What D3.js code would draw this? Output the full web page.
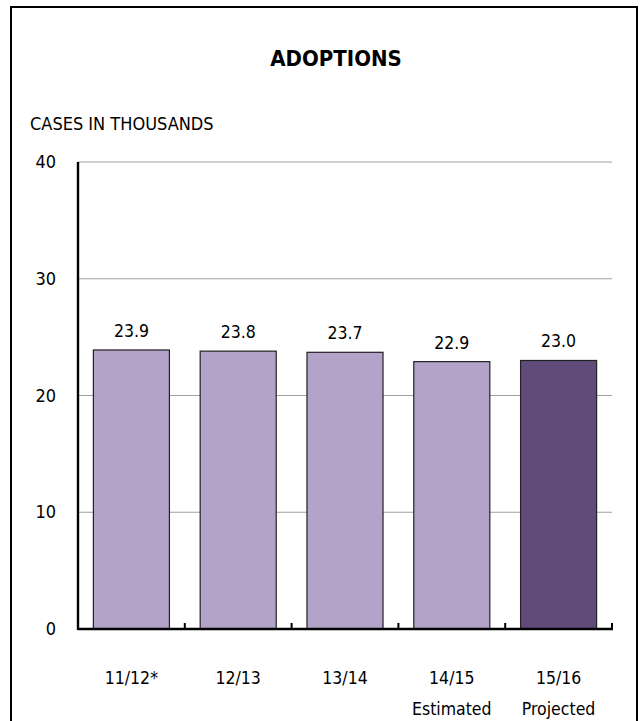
<!DOCTYPE html>
<html>
<head>
<meta charset="utf-8">
<script src="https://cdn.jsdelivr.net/npm/d3@7"></script>
<style>
  body { margin: 0; background: #fff; }
  text { font-family: "Liberation Sans Narrow", "DejaVu Sans Condensed", "Arial Narrow", sans-serif; fill: #000; }
</style>
</head>
<body>
<div id="chart"></div>
<script>
// chart data
var years = ["11/12*", "12/13", "13/14", "14/15", "15/16"];
var subLabels = ["", "", "", "Estimated", "Projected"];
var cases = [23.9, 23.8, 23.7, 22.9, 23.0];
var yTicks = [0, 10, 20, 30, 40];
var barColors = ["#b3a3c9", "#b3a3c9", "#b3a3c9", "#b3a3c9", "#614b7b"];

var w = 640, h = 721;
var svg = d3.select("#chart").append("svg")
    .attr("width", w)
    .attr("height", h);

// outer frame (bottom edge runs off the page)
svg.append("rect")
    .attr("x", 11).attr("y", 7)
    .attr("width", 626).attr("height", 740)
    .attr("fill", "none")
    .attr("stroke", "#000")
    .attr("stroke-width", 2);

var margin = {top: 162, left: 78, right: 28, bottom: 92};
var width = w - margin.left - margin.right,
    height = h - margin.top - margin.bottom;

var g = svg.append("g")
    .attr("transform", "translate(" + margin.left + "," + margin.top + ")");

var x = d3.scaleBand().domain(years).range([0, width])
    .paddingInner(0.288).paddingOuter(0.144);
var y = d3.scaleLinear().domain([0, 40]).range([height, 0]);

// titles
svg.append("text")
    .attr("x", 336).attr("y", 66)
    .attr("text-anchor", "middle")
    .style("font-weight", "bold")
    .style("font-size", "22px")
    .text("ADOPTIONS");

svg.append("text")
    .attr("x", 30).attr("y", 130)
    .style("font-size", "18px")
    .text("CASES IN THOUSANDS");

// gridlines
g.selectAll(".grid").data(yTicks.filter(function(d){ return d > 0; }))
  .enter().append("line")
    .attr("x1", 0).attr("x2", width)
    .attr("y1", function(d){ return y(d); })
    .attr("y2", function(d){ return y(d); })
    .attr("stroke", "#a0a0a0")
    .attr("stroke-width", 1.2);

// y tick labels
g.selectAll(".ylab").data(yTicks)
  .enter().append("text")
    .attr("x", -22)
    .attr("y", function(d){ return y(d) + 6; })
    .attr("text-anchor", "end")
    .style("font-size", "18px")
    .text(function(d){ return d; });

// bars
g.selectAll(".bar").data(cases)
  .enter().append("rect")
    .attr("x", function(d, i){ return x(years[i]); })
    .attr("y", function(d){ return y(d); })
    .attr("width", x.bandwidth())
    .attr("height", function(d){ return height - y(d); })
    .attr("fill", function(d, i){ return barColors[i]; })
    .attr("stroke", "#222")
    .attr("stroke-width", 1.2);

// value labels
g.selectAll(".val").data(cases)
  .enter().append("text")
    .attr("x", function(d, i){ return x(years[i]) + x.bandwidth() / 2; })
    .attr("y", function(d){ return y(d) - 13; })
    .attr("text-anchor", "middle")
    .style("font-size", "17.5px")
    .text(function(d){ return d.toFixed(1); });

// axes
g.append("line")
    .attr("x1", 0).attr("x2", 0)
    .attr("y1", 0).attr("y2", height + 1)
    .attr("stroke", "#000").attr("stroke-width", 2.4);

g.append("line")
    .attr("x1", 0).attr("x2", width + 1)
    .attr("y1", height).attr("y2", height)
    .attr("stroke", "#000").attr("stroke-width", 2.4);

var step = x.step();
g.selectAll(".xtick").data(years)
  .enter().append("line")
    .attr("x1", function(d){ return x(d) - x.paddingOuter() * step + step; })
    .attr("x2", function(d){ return x(d) - x.paddingOuter() * step + step; })
    .attr("y1", height).attr("y2", height - 6)
    .attr("stroke", "#000").attr("stroke-width", 2);

// x labels
g.selectAll(".xlab").data(years)
  .enter().append("text")
    .attr("x", function(d){ return x(d) + x.bandwidth() / 2; })
    .attr("y", height + 55)
    .attr("text-anchor", "middle")
    .style("font-size", "17.5px")
    .text(function(d){ return d; });

g.selectAll(".xsub").data(subLabels)
  .enter().append("text")
    .attr("x", function(d, i){ return x(years[i]) + x.bandwidth() / 2; })
    .attr("y", height + 86)
    .attr("text-anchor", "middle")
    .style("font-size", "17.5px")
    .text(function(d){ return d; });
</script>
</body>
</html>
